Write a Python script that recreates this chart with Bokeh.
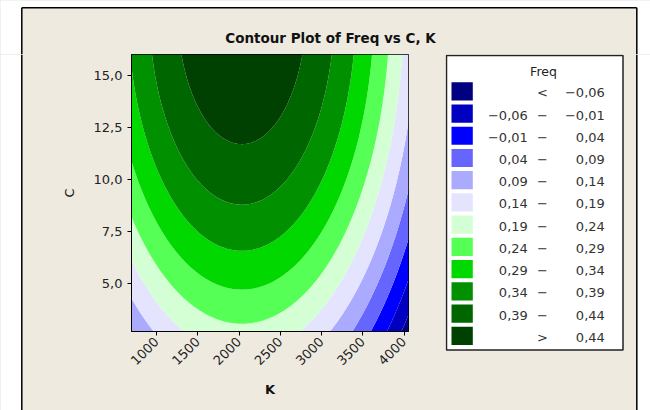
import math
import numpy as np
from bokeh.plotting import figure
from bokeh.layouts import row, column
from bokeh.models import FixedTicker, Range1d
from bokeh.core.properties import value
from bokeh.embed import file_html
from bokeh.resources import INLINE

# ---- fitted response surface ----
# Freq = b0 + bC*C + bCC*C^2 + bKK*(K - K_center)^2
b0 = 0.131
bC = 0.0387
bCC = -0.00105
bKK = -7.7e-8
K_center = 2035.0

K_limits = [697.0, 4054.0]
C_limits = [2.7, 16.0]

# contour levels and colours
levels = [-0.06, -0.01, 0.04, 0.09, 0.14, 0.19, 0.24, 0.29, 0.34, 0.39, 0.44]
colors = ["#000080", "#0000C0", "#0000FF", "#6666FF", "#AAAAFF", "#E4E4FF",
          "#D4FFD4", "#55FF55", "#00D800", "#009000", "#006600", "#004000"]

legend_low = ["", "−0,06", "−0,01", "0,04", "0,09", "0,14", "0,19", "0,24",
              "0,29", "0,34", "0,39", ""]
legend_sep = ["<", "−", "−", "−", "−", "−", "−", "−", "−", "−", "−", ">"]
legend_high = ["−0,06", "−0,01", "0,04", "0,09", "0,14", "0,19", "0,24",
               "0,29", "0,34", "0,39", "0,44", "0,44"]

x_ticks = [1000, 1500, 2000, 2500, 3000, 3500, 4000]
x_tick_labels = ["1000", "1500", "2000", "2500", "3000", "3500", "4000"]
y_ticks = [5.0, 7.5, 10.0, 12.5, 15.0]
y_tick_labels = ["5,0", "7,5", "10,0", "12,5", "15,0"]

title_text = "Contour Plot of Freq vs C, K"
legend_title = "Freq"

BG = "#EEEAE0"
FONT = "DejaVu Sans"

W, H = 650, 410
TOP = 54          # height of the title strip
STRIP = 56        # left decoration panel width
LEG_X0 = 445      # where the legend panel starts


def deco_fig(x0, x1, y0, y1):
    """A plain figure whose frame fills its canvas; ranges in page pixels."""
    f = figure(width=x1 - x0, height=y1 - y0, output_backend="svg",
               toolbar_location=None, title=None,
               x_range=Range1d(x0, x1), y_range=Range1d(y1, y0),
               min_border=0, min_border_left=0, min_border_right=0,
               min_border_top=0, min_border_bottom=0, frame_align=False)
    f.axis.visible = False
    f.grid.visible = False
    f.outline_line_color = None
    f.background_fill_color = BG
    f.border_fill_color = BG
    return f


# ---- header (title strip) ----
head = deco_fig(0, W, 0, TOP)
head.quad(left=[0, 637, 0], right=[21, W, W], top=[0, 0, 0], bottom=[TOP, TOP, 7],
          fill_color="white", line_color=None)
head.segment(x0=[21.3, 636.3, 21.3], y0=[7.3, 7.3, 7.3],
             x1=[21.3, 636.3, 636.3], y1=[TOP, TOP, 7.3],
             line_color="black", line_width=1.5)
head.text(x=[330], y=[37], text=[title_text], text_align="center",
          text_baseline="middle", text_font=value(FONT), text_font_size="13.5px",
          text_font_style="bold", text_color="#111111")

# ---- left panel (white margin + frame line) ----
left = deco_fig(0, STRIP, TOP, H)
left.quad(left=[0], right=[21], top=[TOP], bottom=[H], fill_color="white", line_color=None)
left.segment(x0=[21.3], y0=[TOP], x1=[21.3], y1=[H], line_color="black", line_width=1.5)

# ---- contour plot ----
kk = np.linspace(K_limits[0], K_limits[1], 300)
cc = np.linspace(C_limits[0], C_limits[1], 300)
KG, CG = np.meshgrid(kk, cc)
Z = b0 + bC * CG + bCC * CG ** 2 + bKK * (KG - K_center) ** 2
all_levels = [float(Z.min()) - 0.01] + levels + [float(Z.max()) + 0.01]

FL, FR, FB = 131, 408, 331
p = figure(width=LEG_X0 - STRIP, height=H - TOP, output_backend="svg",
           toolbar_location=None, title=None,
           x_range=Range1d(*K_limits), y_range=Range1d(*C_limits),
           min_border_left=FL - STRIP, min_border_right=LEG_X0 - FR,
           min_border_top=0, min_border_bottom=H - FB, frame_align=False)
p.border_fill_color = BG
p.background_fill_color = "white"
p.outline_line_color = "black"
p.outline_line_width = 1
p.grid.visible = False

p.contour(x=kk, y=cc, z=Z, levels=all_levels, fill_color=colors, line_color=None)

for ax in (p.xaxis[0], p.yaxis[0]):
    ax.major_tick_out = 4
    ax.major_tick_in = 0
    ax.minor_tick_line_color = None
    ax.axis_line_color = "black"
    ax.major_tick_line_color = "black"
    ax.major_label_text_font = FONT
    ax.major_label_text_font_size = "13px"
    ax.major_label_text_color = "#222222"
    ax.axis_label_text_font = FONT
    ax.axis_label_text_font_size = "13px"
    ax.axis_label_text_color = "#111111"
    ax.axis_label_text_font_style = "normal"

p.xaxis.ticker = FixedTicker(ticks=x_ticks)
p.xaxis.major_label_overrides = {t: s for t, s in zip(x_ticks, x_tick_labels)}
p.xaxis.major_label_orientation = math.pi / 4
p.xaxis.major_label_standoff = 4
p.xaxis.axis_label = "K"
p.xaxis.axis_label_standoff = 10
p.xaxis.axis_label_text_font_style = "bold"

p.yaxis.ticker = FixedTicker(ticks=y_ticks)
p.yaxis.major_label_overrides = {t: s for t, s in zip(y_ticks, y_tick_labels)}
p.yaxis.major_label_orientation = "horizontal"
p.yaxis.major_label_standoff = 5
p.yaxis.axis_label = "C"
p.yaxis.axis_label_standoff = 14

# ---- legend panel ----
leg = deco_fig(LEG_X0, W, TOP, H)
leg.quad(left=[637], right=[W], top=[TOP], bottom=[H], fill_color="white", line_color=None)
leg.segment(x0=[636.3], y0=[TOP], x1=[636.3], y1=[H], line_color="black", line_width=1.5)
leg.quad(left=[446], right=[622.5], top=[55], bottom=[349.5], fill_color="white",
         line_color="#222222", line_width=1.5)
leg.text(x=[543], y=[71], text=[legend_title], text_align="center",
         text_baseline="middle", text_font=value(FONT), text_font_size="12.5px",
         text_color="#222222")
row0, step = 90.8, 22.23
yc = [row0 + step * i for i in range(len(colors))]
leg.quad(left=[451] * len(colors), right=[472.3] * len(colors),
         top=[y - 9.1 for y in yc], bottom=[y + 9.1 for y in yc],
         fill_color=colors, line_color=None)
for texts, xx, al in ((legend_low, 527.3, "right"), (legend_sep, 542, "center"),
                      (legend_high, 604.3, "right")):
    xs = [xx for t in texts if t]
    ys = [y + 1.5 for y, t in zip(yc, texts) if t]
    ts = [t for t in texts if t]
    leg.text(x=xs, y=ys, text=ts, text_align=al, text_baseline="middle",
             text_font=value(FONT), text_font_size="13px", text_color="#333333")

body = row(left, p, leg, spacing=0, styles={"background-color": BG})
layout = column(head, body, spacing=0, styles={"background-color": BG})
open("out.html", "w").write(file_html(layout, INLINE))
